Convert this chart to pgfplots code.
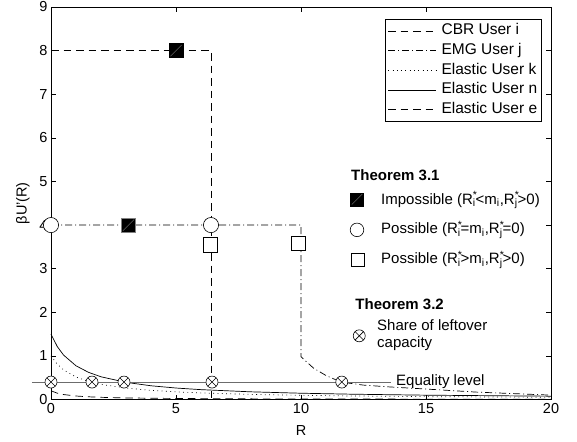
\documentclass[border=0pt]{standalone}
\usepackage{fontspec}
\setmainfont{Liberation Sans}
\usepackage{pgfplots}
\pgfplotsset{compat=1.18}
\usetikzlibrary{plotmarks}
\newcommand{\Rs}[1]{R\rlap{\textsuperscript{*}}\textsubscript{#1}}
\pgfdeclareplotmark{slashsq}{%
  \pgfpathrectangle{\pgfqpoint{-\pgfplotmarksize}{-\pgfplotmarksize}}{\pgfqpoint{2\pgfplotmarksize}{2\pgfplotmarksize}}%
  \pgfusepathqfillstroke
  \pgfsetstrokecolor{gray}%
  \pgfsetlinewidth{0.4pt}%
  \pgfpathmoveto{\pgfqpoint{-0.8\pgfplotmarksize}{-0.8\pgfplotmarksize}}%
  \pgfpathlineto{\pgfqpoint{0.8\pgfplotmarksize}{0.8\pgfplotmarksize}}%
  \pgfusepathqstroke
}
\pgfplotstableread{
x y
0 8
6.4 8
6.4 0
}\cbr
\pgfplotstableread{
x y
0 4
10 4
10 0.98
10.5 0.72
11 0.55
11.6 0.40
12.5 0.33
13.5 0.29
15 0.24
17 0.17
20 0.10
}\emg
\pgfplotstableread{
x k n e
0 1.000 1.500 0.200
0.25 0.810 1.215 0.145
0.5 0.680 1.020 0.114
1 0.515 0.773 0.080
1.5 0.415 0.623 0.062
2 0.347 0.521 0.050
3 0.262 0.393 0.036
4 0.210 0.315 0.029
5 0.175 0.263 0.024
6 0.151 0.226 0.020
8 0.117 0.176 0.015
10 0.096 0.144 0.012
12 0.081 0.122 0.011
15 0.066 0.099 0.008
20 0.051 0.076 0.006
}\elastic
\begin{document}
\begin{tikzpicture}
\useasboundingbox (-51pt,-41.5pt) rectangle (526pt,399.5pt);
\begin{axis}[
  at={(0pt,0pt)}, anchor=south west,
  scale only axis, width=500pt, height=392.5pt,
  xmin=0, xmax=20, ymin=0, ymax=9,
  xtick={0,5,10,15,20}, ytick={0,1,...,9},
  tick align=inside, major tick length=5pt,
  axis line style={line width=0.8pt},
  every tick/.style={black, line width=0.6pt},
  clip=false,
  /pgf/number format/assume math mode=true,
  tick label style={font=\fontsize{14.5}{16}\selectfont},
  label style={font=\fontsize{14.5}{16}\selectfont},
  xlabel={R}, ylabel={βU’(R)},
  xlabel style={at={(axis description cs:0.5,-0.078)}, anchor=center},
  ylabel style={at={(axis description cs:-0.056,0.5)}, anchor=center},
  legend style={at={(axis description cs:0.982,0.970)}, anchor=north east,
    draw=black, line width=0.6pt, fill=white,
    font=\fontsize{15.5}{17}\selectfont,
    inner xsep=2.5pt, inner ysep=2pt,
    /tikz/every odd column/.append style={column sep=3pt},
    nodes={inner xsep=2pt, inner ysep=2.2pt, text height=11.5pt, text depth=3.8pt, anchor=west}},
  legend cell align=left,
  legend image code/.code={\draw[#1, mark=none] (0pt,0pt) -- (48pt,0pt);},
]
\addplot[black, line width=0.7pt, dash pattern=on 7.5pt off 5pt] table[x=x,y=y]{\cbr};
\addlegendentry{CBR User i}
\addplot[black, line width=0.7pt, dash pattern=on 7pt off 3pt on 1pt off 3pt] table[x=x,y=y]{\emg};
\addlegendentry{EMG User j}
\addplot[black, line width=0.7pt, dash pattern=on 0.8pt off 3.5pt] table[x=x,y=k]{\elastic};
\addlegendentry{Elastic User k}
\addplot[black, line width=0.7pt] table[x=x,y=n]{\elastic};
\addlegendentry{Elastic User n}
\addplot[black, line width=0.7pt, dash pattern=on 7.5pt off 5pt] table[x=x,y=e]{\elastic};
\addlegendentry{Elastic User e}
% equality level
\addplot[forget plot, gray!85!black, line width=1pt] coordinates {(-0.76,0.4) (13.6,0.4)};
% markers
\addplot[forget plot, only marks, mark=slashsq, mark size=7pt, mark options={fill=black, draw=black, line width=0.6pt}] coordinates {(5,8) (3.1,4)};
\addplot[forget plot, only marks, mark=*, mark size=7.6pt, mark options={fill=white, draw=black, line width=0.6pt}] coordinates {(0,4) (6.4,4)};
\addplot[forget plot, only marks, mark=square*, mark size=7.2pt, mark options={fill=white, draw=black, line width=0.6pt}] coordinates {(6.36,3.55) (9.9,3.58)};
\addplot[forget plot, only marks, mark=otimes*, mark size=6pt, mark options={fill=white, draw=black, line width=0.6pt}] coordinates {(0,0.4) (1.64,0.4) (2.92,0.4) (6.44,0.4) (11.63,0.4)};
% annotation legend symbols
\addplot[forget plot, only marks, mark=slashsq, mark size=6.5pt, mark options={fill=black, draw=black, line width=0.6pt}] coordinates {(12.24,4.59)};
\addplot[forget plot, only marks, mark=*, mark size=6.8pt, mark options={fill=white, draw=black, line width=0.6pt}] coordinates {(12.24,3.89)};
\addplot[forget plot, only marks, mark=square*, mark size=6.5pt, mark options={fill=white, draw=black, line width=0.6pt}] coordinates {(12.26,3.2)};
\addplot[forget plot, only marks, mark=otimes*, mark size=6pt, mark options={fill=white, draw=black, line width=0.6pt}] coordinates {(12.33,1.46)};
\begin{scope}[every node/.style={font=\fontsize{15}{17}\selectfont, inner sep=0pt, anchor=base west}]
\node at (axis cs:12.0,5.03) {\bfseries Theorem 3.1};
\node at (axis cs:13.2,4.48) {Impossible (\Rs{i}<m\textsubscript{i},\Rs{j}>0)};
\node at (axis cs:13.2,3.80) {Possible (\Rs{i}=m\textsubscript{i},\Rs{j}=0)};
\node at (axis cs:13.2,3.11) {Possible (\Rs{i}>m\textsubscript{i},\Rs{j}>0)};
\node at (axis cs:12.17,2.07) {\bfseries Theorem 3.2};
\node at (axis cs:13.04,1.58) {Share of leftover};
\node at (axis cs:13.04,1.19) {capacity};
\node at (axis cs:13.8,0.31) {Equality level};
\end{scope}
\end{axis}
\end{tikzpicture}
\end{document}
